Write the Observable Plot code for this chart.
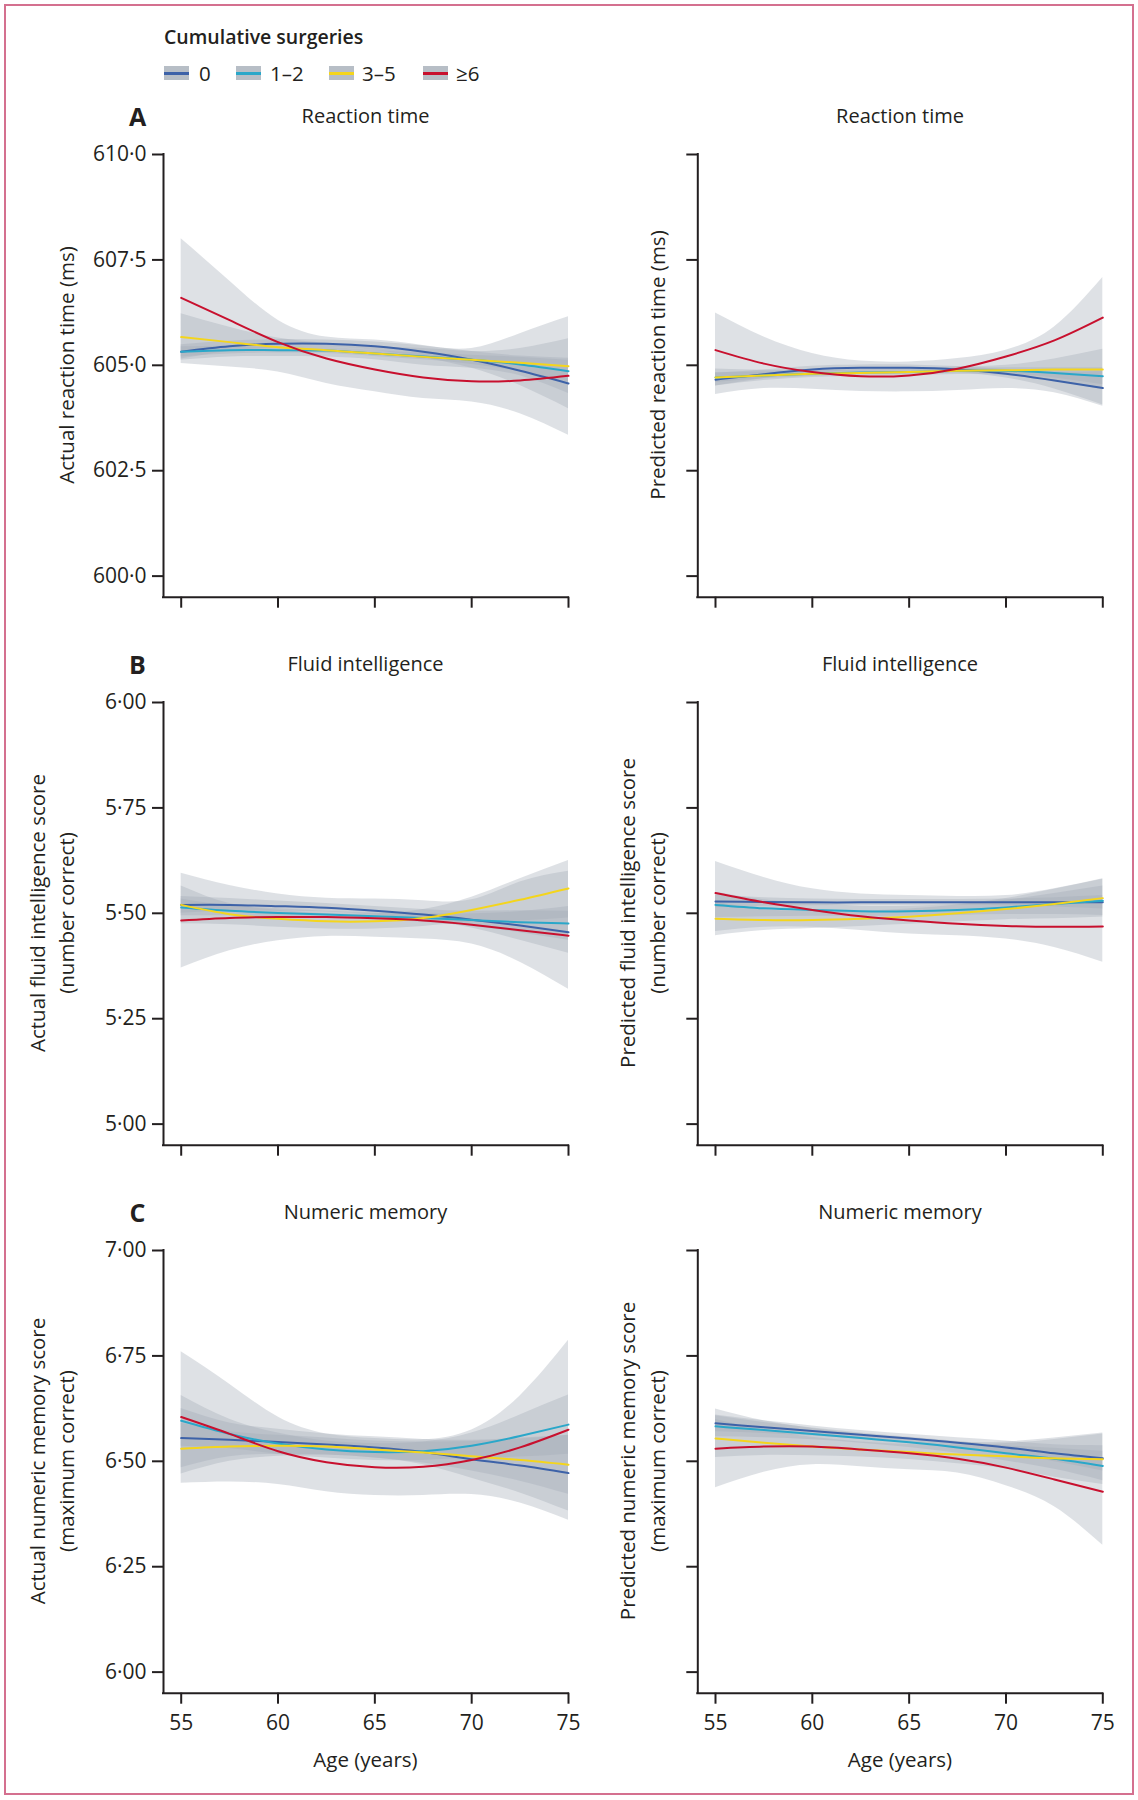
<!DOCTYPE html>
<html>
<head>
<meta charset="utf-8">
<script src="https://cdn.jsdelivr.net/npm/d3@7"></script>
<script src="https://cdn.jsdelivr.net/npm/@observablehq/plot@0.6"></script>
<style>
  body { margin: 0; background: #fff; }
  #fig { position: relative; width: 1138px; height: 1800px; font-family: "Open Sans", sans-serif; color: #231f20; overflow: hidden; }
  #border { position: absolute; left: 4px; top: 4px; width: 1126px; height: 1787px; border: 2px solid #d4708f; }
  .t { position: absolute; white-space: nowrap; line-height: 1; font-size: 20px; }
  .c { transform: translate(-50%, -50%); }
  .r { transform: translate(-50%, -50%) rotate(-90deg); }
  .l { transform: translate(0, -50%); }
  .sw { position: absolute; width: 25px; height: 14px; background: #b7bec6; }
  .sw i { position: absolute; left: 0; right: 0; top: 5.5px; height: 3px; }
  svg { position: absolute; overflow: visible; }
</style>
</head>
<body>
<div id="fig"><div id="border"></div></div>
<script>
// ---------- data ----------
const ages = [55, 57.5, 60, 62.5, 65, 67.5, 70, 72.5, 75];
const groups = ["0", "1–2", "3–5", "≥6"];
const groupColors = ["#3d62a8", "#2aa7c9", "#f4d51c", "#c8102e"];
const xTicks = [55, 60, 65, 70, 75];

const rtTicks = [600, 602.5, 605, 607.5, 610];
const fiTicks = [5, 5.25, 5.5, 5.75, 6];
const nmTicks = [6, 6.25, 6.5, 6.75, 7];

// Reaction time, actual (rows: 0, 1–2, 3–5, ≥6)
const rtActualMean = [
  [605.32, 605.45, 605.51, 605.51, 605.45, 605.32, 605.13, 604.87, 604.57],
  [605.32, 605.36, 605.36, 605.35, 605.28, 605.21, 605.13, 605.02, 604.86],
  [605.67, 605.55, 605.43, 605.36, 605.28, 605.20, 605.13, 605.06, 604.98],
  [606.60, 606.07, 605.55, 605.16, 604.90, 604.71, 604.62, 604.64, 604.75]
];
const rtActualLow = [
  [605.15, 605.33, 605.41, 605.42, 605.35, 605.18, 604.93, 604.52, 603.97],
  [605.20, 605.27, 605.29, 605.28, 605.21, 605.13, 605.02, 604.85, 604.60],
  [605.12, 605.20, 605.21, 605.20, 605.13, 605.00, 604.93, 604.75, 604.33],
  [605.04, 604.96, 604.84, 604.57, 604.37, 604.21, 604.13, 603.85, 603.34]
];
const rtActualHigh = [
  [605.49, 605.57, 605.61, 605.60, 605.55, 605.46, 605.33, 605.22, 605.17],
  [605.44, 605.45, 605.43, 605.42, 605.35, 605.29, 605.24, 605.19, 605.12],
  [606.22, 605.90, 605.65, 605.52, 605.43, 605.40, 605.33, 605.40, 605.63],
  [608.00, 607.00, 606.07, 605.67, 605.60, 605.47, 605.40, 605.75, 606.15]
];

// Reaction time, predicted
const rtPredMean = [
  [604.66, 604.79, 604.90, 604.94, 604.94, 604.90, 604.80, 604.64, 604.46],
  [604.71, 604.76, 604.80, 604.83, 604.84, 604.87, 604.87, 604.82, 604.74],
  [604.71, 604.76, 604.80, 604.82, 604.84, 604.87, 604.88, 604.90, 604.90],
  [605.36, 605.04, 604.84, 604.74, 604.76, 604.92, 605.21, 605.59, 606.13]
];
const rtPredLow = [
  [604.51, 604.69, 604.82, 604.87, 604.87, 604.83, 604.70, 604.44, 604.06],
  [604.59, 604.68, 604.74, 604.78, 604.79, 604.82, 604.80, 604.70, 604.54],
  [604.51, 604.64, 604.71, 604.74, 604.76, 604.78, 604.76, 604.62, 604.42],
  [604.31, 604.45, 604.43, 604.38, 604.37, 604.40, 604.45, 604.35, 604.03]
];
const rtPredHigh = [
  [604.81, 604.89, 604.98, 605.01, 605.01, 604.97, 604.90, 604.84, 604.86],
  [604.83, 604.84, 604.86, 604.88, 604.89, 604.92, 604.94, 604.94, 604.94],
  [604.91, 604.88, 604.89, 604.90, 604.92, 604.96, 605.00, 605.15, 605.38],
  [606.24, 605.67, 605.28, 605.10, 605.08, 605.16, 605.36, 605.91, 607.08]
];

// Fluid intelligence, actual
const fiActualMean = [
  [5.520, 5.520, 5.517, 5.513, 5.506, 5.497, 5.485, 5.471, 5.455],
  [5.514, 5.506, 5.501, 5.497, 5.493, 5.489, 5.484, 5.479, 5.476],
  [5.520, 5.498, 5.487, 5.481, 5.481, 5.489, 5.508, 5.532, 5.559],
  [5.483, 5.489, 5.491, 5.491, 5.488, 5.483, 5.473, 5.460, 5.447]
];
const fiActualLow = [
  [5.500, 5.505, 5.505, 5.503, 5.496, 5.485, 5.465, 5.436, 5.405],
  [5.494, 5.494, 5.491, 5.489, 5.485, 5.479, 5.469, 5.454, 5.436],
  [5.475, 5.473, 5.467, 5.463, 5.463, 5.469, 5.478, 5.482, 5.489],
  [5.370, 5.411, 5.435, 5.445, 5.443, 5.439, 5.427, 5.384, 5.320]
];
const fiActualHigh = [
  [5.540, 5.535, 5.529, 5.523, 5.516, 5.509, 5.505, 5.506, 5.505],
  [5.534, 5.518, 5.511, 5.505, 5.501, 5.499, 5.499, 5.504, 5.516],
  [5.565, 5.523, 5.507, 5.499, 5.499, 5.509, 5.538, 5.582, 5.625],
  [5.595, 5.566, 5.546, 5.536, 5.534, 5.530, 5.532, 5.574, 5.600]
];

// Fluid intelligence, predicted
const fiPredMean = [
  [5.528, 5.527, 5.526, 5.526, 5.526, 5.526, 5.526, 5.526, 5.526],
  [5.520, 5.512, 5.508, 5.505, 5.505, 5.508, 5.514, 5.522, 5.530],
  [5.487, 5.484, 5.484, 5.487, 5.492, 5.500, 5.510, 5.522, 5.536],
  [5.548, 5.526, 5.508, 5.493, 5.483, 5.475, 5.470, 5.468, 5.469]
];
const fiPredLow = [
  [5.513, 5.517, 5.518, 5.519, 5.519, 5.519, 5.518, 5.515, 5.510],
  [5.490, 5.492, 5.493, 5.493, 5.493, 5.495, 5.497, 5.497, 5.495],
  [5.447, 5.459, 5.464, 5.469, 5.474, 5.480, 5.485, 5.487, 5.491],
  [5.457, 5.467, 5.467, 5.459, 5.451, 5.447, 5.439, 5.419, 5.384]
];
const fiPredHigh = [
  [5.543, 5.537, 5.534, 5.533, 5.533, 5.533, 5.534, 5.537, 5.542],
  [5.550, 5.532, 5.523, 5.517, 5.517, 5.521, 5.531, 5.547, 5.565],
  [5.527, 5.509, 5.504, 5.505, 5.510, 5.520, 5.535, 5.557, 5.581],
  [5.623, 5.585, 5.558, 5.546, 5.542, 5.540, 5.542, 5.558, 5.582]
];

// Numeric memory, actual
const nmActualMean = [
  [6.555, 6.551, 6.546, 6.540, 6.533, 6.522, 6.505, 6.490, 6.472],
  [6.596, 6.565, 6.542, 6.528, 6.522, 6.524, 6.537, 6.560, 6.587],
  [6.530, 6.535, 6.537, 6.535, 6.528, 6.521, 6.512, 6.503, 6.492],
  [6.605, 6.565, 6.524, 6.498, 6.486, 6.487, 6.503, 6.533, 6.575]
];
const nmActualLow = [
  [6.485, 6.511, 6.516, 6.515, 6.508, 6.492, 6.460, 6.425, 6.382],
  [6.536, 6.530, 6.517, 6.508, 6.502, 6.502, 6.507, 6.510, 6.517],
  [6.470, 6.500, 6.512, 6.515, 6.508, 6.496, 6.477, 6.453, 6.422],
  [6.448, 6.451, 6.445, 6.428, 6.419, 6.419, 6.421, 6.401, 6.360]
];
const nmActualHigh = [
  [6.625, 6.591, 6.576, 6.565, 6.558, 6.552, 6.550, 6.555, 6.562],
  [6.656, 6.600, 6.567, 6.548, 6.542, 6.546, 6.567, 6.610, 6.657],
  [6.590, 6.570, 6.562, 6.555, 6.548, 6.546, 6.547, 6.553, 6.562],
  [6.760, 6.683, 6.605, 6.565, 6.554, 6.551, 6.574, 6.655, 6.787]
];

// Numeric memory, predicted
const nmPredMean = [
  [6.590, 6.581, 6.572, 6.563, 6.554, 6.544, 6.533, 6.519, 6.507],
  [6.583, 6.574, 6.565, 6.555, 6.545, 6.533, 6.519, 6.506, 6.489],
  [6.554, 6.544, 6.535, 6.528, 6.522, 6.516, 6.512, 6.507, 6.505],
  [6.530, 6.535, 6.535, 6.528, 6.519, 6.506, 6.485, 6.457, 6.428]
];
const nmPredLow = [
  [6.570, 6.566, 6.560, 6.553, 6.544, 6.532, 6.518, 6.499, 6.477],
  [6.558, 6.556, 6.551, 6.543, 6.533, 6.519, 6.501, 6.481, 6.454],
  [6.509, 6.514, 6.513, 6.510, 6.504, 6.494, 6.482, 6.462, 6.445],
  [6.437, 6.474, 6.492, 6.487, 6.480, 6.472, 6.442, 6.392, 6.301]
];
const nmPredHigh = [
  [6.610, 6.596, 6.584, 6.573, 6.564, 6.556, 6.548, 6.539, 6.537],
  [6.608, 6.592, 6.579, 6.567, 6.557, 6.547, 6.537, 6.531, 6.524],
  [6.599, 6.574, 6.557, 6.546, 6.540, 6.538, 6.542, 6.552, 6.565],
  [6.624, 6.596, 6.578, 6.565, 6.555, 6.546, 6.546, 6.555, 6.567]
];

// ---------- layout ----------
const fig = document.getElementById("fig");
const ink = "#231f20";
const xStart = 54.086;          // x-axis line begins slightly left of 55
const rowTops = [130, 677.8, 1225.6];

function text(str, x, y, cls, style = {}) {
  const d = document.createElement("div");
  d.className = "t " + cls;
  d.textContent = str;
  d.style.left = x + "px";
  d.style.top = y + "px";
  Object.assign(d.style, style);
  fig.appendChild(d);
  return d;
}

function fmt(decimals) {
  const f = d3.format("." + decimals + "f");
  return d => f(d).replace(".", "·");
}

function panel({col, row, mean, low, high, yDomain, yTicks, dec, xLabels}) {
  const left = col === 0 ? 0 : 600;
  const width = col === 0 ? 600 : 538;
  const ml = col === 0 ? 163 : 97.3;
  const mr = col === 0 ? 32 : 35.7;
  const top = rowTops[row];
  const height = xLabels ? 560 : 520;
  const mt = 24;
  const mb = height - 466.7;
  const rows = [];
  groups.forEach((g, gi) => ages.forEach((a, i) =>
    rows.push({age: a, group: g, mean: mean[gi][i], lo: low[gi][i], hi: high[gi][i]})));
  const yTop = yTicks[yTicks.length - 1];
  const svg = Plot.plot({
    width, height,
    marginLeft: ml, marginRight: mr, marginTop: mt, marginBottom: mb,
    style: {fontFamily: "'Open Sans', sans-serif", fontSize: "21px", color: ink, background: "transparent"},
    x: {domain: [xStart, 75], axis: null},
    y: {domain: yDomain, axis: null},
    color: {domain: groups, range: groupColors},
    marks: [
      Plot.areaY(rows, {x: "age", y1: "lo", y2: "hi", z: "group", fill: "#a3acb6", fillOpacity: 0.36, curve: "natural"}),
      Plot.line(rows, {x: "age", y: "mean", z: "group", stroke: "group", strokeWidth: 2, curve: "natural"}),
      Plot.ruleX([xStart], {y1: yDomain[0], y2: yTop, stroke: ink, strokeWidth: 2, strokeLinecap: "square"}),
      Plot.ruleY([yDomain[0]], {x1: xStart, x2: 75, stroke: ink, strokeWidth: 2, strokeLinecap: "square"}),
      Plot.axisY({ticks: yTicks, tickSize: 11, tickPadding: 6, tickFormat: fmt(dec), strokeWidth: 2, stroke: ink,
                  fill: col === 0 ? ink : "none", fontSize: 21, label: null}),
      Plot.axisX({ticks: xTicks, tickSize: 11, tickPadding: 11, tickFormat: d => String(d), strokeWidth: 2, stroke: ink,
                  fill: xLabels ? ink : "none", fontSize: 21, label: null})
    ]
  });
  svg.style.left = left + "px";
  svg.style.top = top + "px";
  fig.appendChild(svg);
}

panel({col: 0, row: 0, mean: rtActualMean, low: rtActualLow, high: rtActualHigh, yDomain: [599.5, 610], yTicks: rtTicks, dec: 1});
panel({col: 1, row: 0, mean: rtPredMean, low: rtPredLow, high: rtPredHigh, yDomain: [599.5, 610], yTicks: rtTicks, dec: 1});
panel({col: 0, row: 1, mean: fiActualMean, low: fiActualLow, high: fiActualHigh, yDomain: [4.95, 6], yTicks: fiTicks, dec: 2});
panel({col: 1, row: 1, mean: fiPredMean, low: fiPredLow, high: fiPredHigh, yDomain: [4.95, 6], yTicks: fiTicks, dec: 2});
panel({col: 0, row: 2, mean: nmActualMean, low: nmActualLow, high: nmActualHigh, yDomain: [5.95, 7], yTicks: nmTicks, dec: 2, xLabels: true});
panel({col: 1, row: 2, mean: nmPredMean, low: nmPredLow, high: nmPredHigh, yDomain: [5.95, 7], yTicks: nmTicks, dec: 2, xLabels: true});

// ---------- text ----------
const cxL = 365.5, cxR = 900;
const titles = ["Reaction time", "Fluid intelligence", "Numeric memory"];
const letters = ["A", "B", "C"];
const titleY = [116, 663.8, 1211.6];
const labelY = [365, 912.8, 1460.6];
titles.forEach((t, i) => {
  text(letters[i], 137.5, titleY[i], "c", {fontSize: "25px", fontWeight: "700"});
  text(t, cxL, titleY[i], "c");
  text(t, cxR, titleY[i], "c");
});
text("Actual reaction time (ms)", 65.5, labelY[0], "r", {fontSize: "20.5px"});
text("Predicted reaction time (ms)", 657, labelY[0], "r", {fontSize: "20.5px"});
text("Actual fluid intelligence score", 37, labelY[1], "r", {fontSize: "20.5px"});
text("(number correct)", 65.5, labelY[1], "r", {fontSize: "20.5px"});
text("Predicted fluid intelligence score", 627, labelY[1], "r", {fontSize: "20.5px"});
text("(number correct)", 657, labelY[1], "r", {fontSize: "20.5px"});
text("Actual numeric memory score", 37, labelY[2], "r", {fontSize: "20.5px"});
text("(maximum correct)", 65.5, labelY[2], "r", {fontSize: "20.5px"});
text("Predicted numeric memory score", 627, labelY[2], "r", {fontSize: "20.5px"});
text("(maximum correct)", 657, labelY[2], "r", {fontSize: "20.5px"});
text("Age (years)", cxL, 1759, "c", {fontSize: "20.5px"});
text("Age (years)", cxR, 1759, "c", {fontSize: "20.5px"});

// ---------- legend ----------
text("Cumulative surgeries", 164, 37, "l", {fontSize: "19.5px", fontWeight: "600"});
const swatchX = [164, 235.5, 328.5, 422.5];
const labelX = [199, 270, 362, 456];
groups.forEach((g, i) => {
  const s = document.createElement("div");
  s.className = "sw";
  s.style.left = swatchX[i] + "px";
  s.style.top = "66px";
  const line = document.createElement("i");
  line.style.background = groupColors[i];
  s.appendChild(line);
  fig.appendChild(s);
  text(g, labelX[i], 73, "l", {fontSize: "20.5px"});
});
</script>
</body>
</html>
